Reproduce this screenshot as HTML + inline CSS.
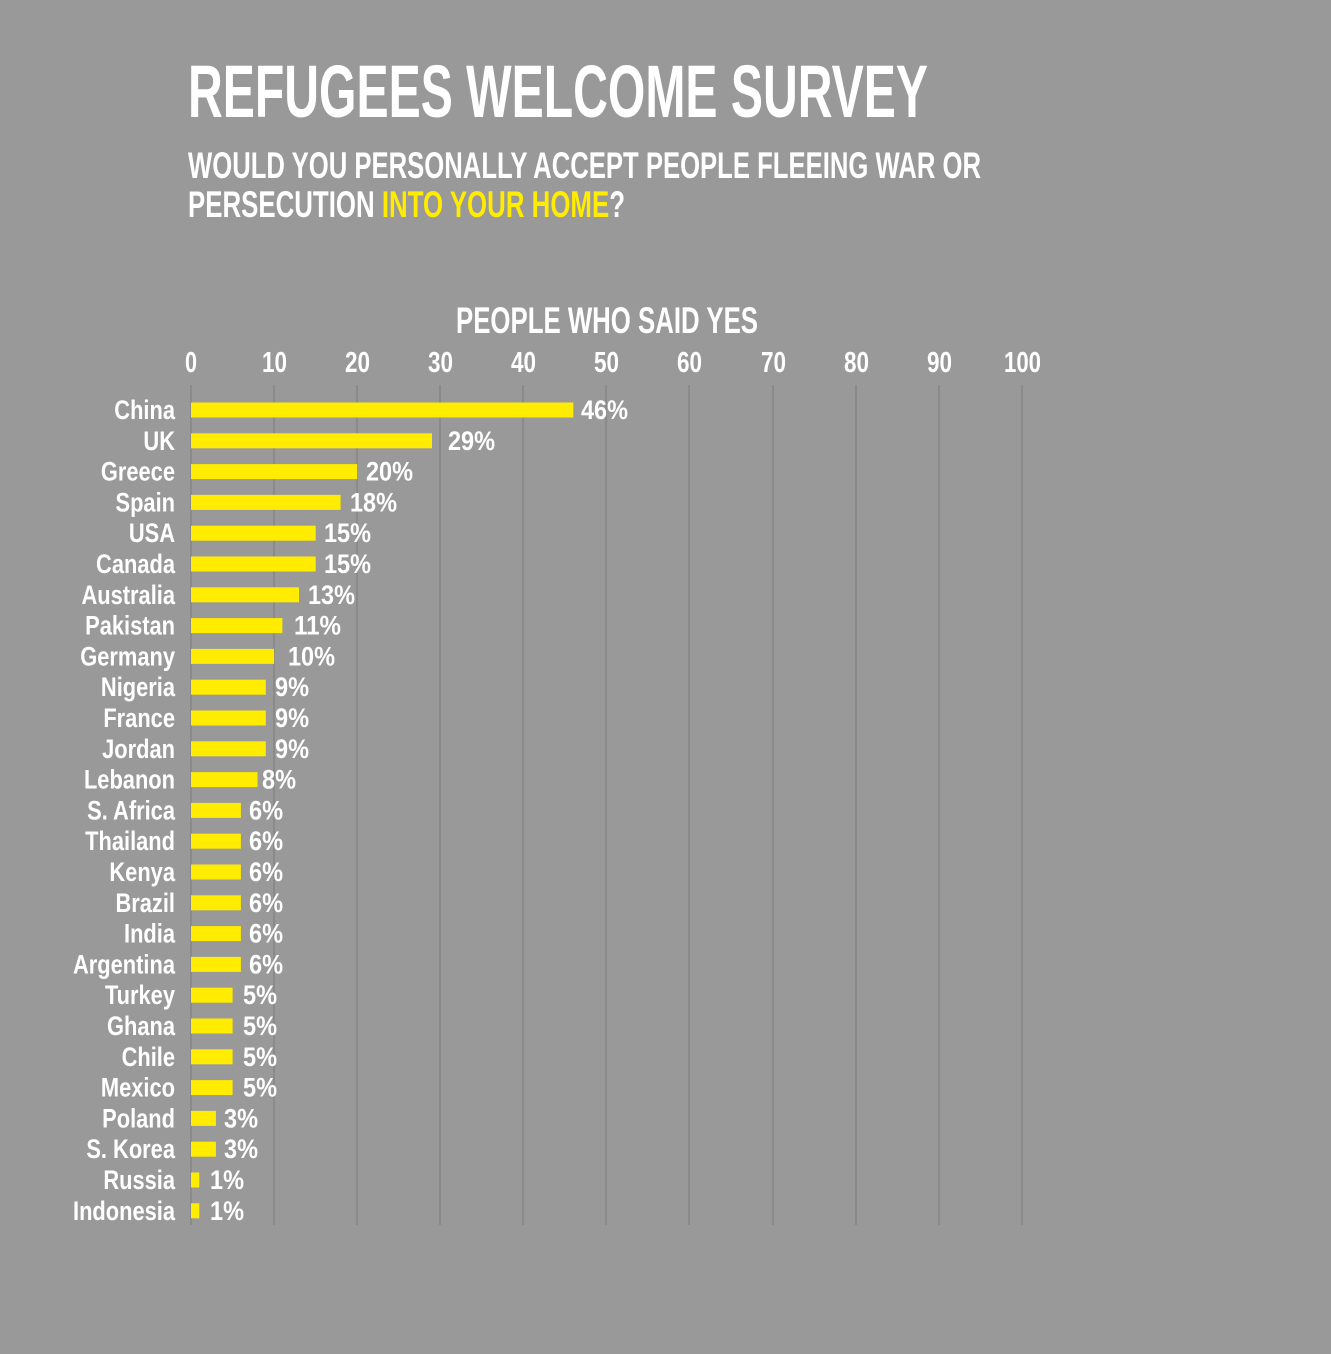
<!DOCTYPE html>
<html><head><meta charset="utf-8"><style>
html,body{margin:0;padding:0;background:#999999;}
svg{display:block}
text{font-family:"Liberation Sans Narrow","Liberation Sans",sans-serif;font-weight:bold;fill:#fff}
</style></head><body>
<svg width="1331" height="1354" viewBox="0 0 1331 1354" xmlns="http://www.w3.org/2000/svg">
<rect width="1331" height="1354" fill="#999999"/>
<text x="188" y="117" font-size="74" textLength="740" lengthAdjust="spacingAndGlyphs">REFUGEES WELCOME SURVEY</text>
<text x="188" y="178" font-size="37" textLength="793" lengthAdjust="spacingAndGlyphs">WOULD YOU PERSONALLY ACCEPT PEOPLE FLEEING WAR OR</text>
<text x="188" y="217" font-size="37" textLength="437" lengthAdjust="spacingAndGlyphs">PERSECUTION <tspan fill="#ffec00">INTO YOUR HOME</tspan>?</text>
<text x="456" y="333" font-size="37" textLength="302" lengthAdjust="spacingAndGlyphs">PEOPLE WHO SAID YES</text>
<g stroke="#8a8a8a" stroke-width="2">
<line x1="191" y1="385" x2="191" y2="1225"/><line x1="274" y1="385" x2="274" y2="1225"/><line x1="357" y1="385" x2="357" y2="1225"/><line x1="440" y1="385" x2="440" y2="1225"/><line x1="523" y1="385" x2="523" y2="1225"/><line x1="606" y1="385" x2="606" y2="1225"/><line x1="689" y1="385" x2="689" y2="1225"/><line x1="773" y1="385" x2="773" y2="1225"/><line x1="856" y1="385" x2="856" y2="1225"/><line x1="939" y1="385" x2="939" y2="1225"/><line x1="1022" y1="385" x2="1022" y2="1225"/>
</g>
<g font-size="29">
<text x="185" y="372" textLength="12" lengthAdjust="spacingAndGlyphs">0</text>
<text x="262" y="372" textLength="25" lengthAdjust="spacingAndGlyphs">10</text>
<text x="345" y="372" textLength="25" lengthAdjust="spacingAndGlyphs">20</text>
<text x="428" y="372" textLength="25" lengthAdjust="spacingAndGlyphs">30</text>
<text x="511" y="372" textLength="25" lengthAdjust="spacingAndGlyphs">40</text>
<text x="594" y="372" textLength="25" lengthAdjust="spacingAndGlyphs">50</text>
<text x="677" y="372" textLength="25" lengthAdjust="spacingAndGlyphs">60</text>
<text x="761" y="372" textLength="25" lengthAdjust="spacingAndGlyphs">70</text>
<text x="844" y="372" textLength="25" lengthAdjust="spacingAndGlyphs">80</text>
<text x="927" y="372" textLength="25" lengthAdjust="spacingAndGlyphs">90</text>
<text x="1004" y="372" textLength="37" lengthAdjust="spacingAndGlyphs">100</text>
</g>
<g fill="#ffec00">
<rect x="191" y="402.5" width="382.3" height="15"/>
<rect x="191" y="433.3" width="241" height="15"/>
<rect x="191" y="464.1" width="166.2" height="15"/>
<rect x="191" y="494.9" width="149.6" height="15"/>
<rect x="191" y="525.7" width="124.7" height="15"/>
<rect x="191" y="556.5" width="124.7" height="15"/>
<rect x="191" y="587.3" width="108" height="15"/>
<rect x="191" y="618.1" width="91.4" height="15"/>
<rect x="191" y="648.9" width="83.1" height="15"/>
<rect x="191" y="679.7" width="74.8" height="15"/>
<rect x="191" y="710.5" width="74.8" height="15"/>
<rect x="191" y="741.3" width="74.8" height="15"/>
<rect x="191" y="772.1" width="66.5" height="15"/>
<rect x="191" y="802.9" width="49.9" height="15"/>
<rect x="191" y="833.7" width="49.9" height="15"/>
<rect x="191" y="864.5" width="49.9" height="15"/>
<rect x="191" y="895.3" width="49.9" height="15"/>
<rect x="191" y="926.1" width="49.9" height="15"/>
<rect x="191" y="956.9" width="49.9" height="15"/>
<rect x="191" y="987.7" width="41.6" height="15"/>
<rect x="191" y="1018.5" width="41.6" height="15"/>
<rect x="191" y="1049.3" width="41.6" height="15"/>
<rect x="191" y="1080.1" width="41.6" height="15"/>
<rect x="191" y="1110.9" width="24.9" height="15"/>
<rect x="191" y="1141.7" width="24.9" height="15"/>
<rect x="191" y="1172.5" width="8.3" height="15"/>
<rect x="191" y="1203.3" width="8.3" height="15"/>
</g>
<g font-size="27" text-anchor="end" transform="translate(175 0) scale(0.81 1) translate(-175 0)">
<text x="175" y="419">China</text>
<text x="175" y="449.8">UK</text>
<text x="175" y="480.6">Greece</text>
<text x="175" y="511.4">Spain</text>
<text x="175" y="542.2">USA</text>
<text x="175" y="573">Canada</text>
<text x="175" y="603.8">Australia</text>
<text x="175" y="634.6">Pakistan</text>
<text x="175" y="665.4">Germany</text>
<text x="175" y="696.2">Nigeria</text>
<text x="175" y="727">France</text>
<text x="175" y="757.8">Jordan</text>
<text x="175" y="788.6">Lebanon</text>
<text x="175" y="819.4">S. Africa</text>
<text x="175" y="850.2">Thailand</text>
<text x="175" y="881">Kenya</text>
<text x="175" y="911.8">Brazil</text>
<text x="175" y="942.6">India</text>
<text x="175" y="973.4">Argentina</text>
<text x="175" y="1004.2">Turkey</text>
<text x="175" y="1035">Ghana</text>
<text x="175" y="1065.8">Chile</text>
<text x="175" y="1096.6">Mexico</text>
<text x="175" y="1127.4">Poland</text>
<text x="175" y="1158.2">S. Korea</text>
<text x="175" y="1189">Russia</text>
<text x="175" y="1219.8">Indonesia</text>
</g>
<g font-size="27" font-weight="normal" style="font-weight:600">
<text x="581" y="419" textLength="47" lengthAdjust="spacingAndGlyphs">46%</text>
<text x="448" y="449.8" textLength="47" lengthAdjust="spacingAndGlyphs">29%</text>
<text x="366" y="480.6" textLength="47" lengthAdjust="spacingAndGlyphs">20%</text>
<text x="350" y="511.4" textLength="47" lengthAdjust="spacingAndGlyphs">18%</text>
<text x="324" y="542.2" textLength="47" lengthAdjust="spacingAndGlyphs">15%</text>
<text x="324" y="573" textLength="47" lengthAdjust="spacingAndGlyphs">15%</text>
<text x="308" y="603.8" textLength="47" lengthAdjust="spacingAndGlyphs">13%</text>
<text x="294" y="634.6" textLength="47" lengthAdjust="spacingAndGlyphs">11%</text>
<text x="288" y="665.4" textLength="47" lengthAdjust="spacingAndGlyphs">10%</text>
<text x="275" y="696.2" textLength="34" lengthAdjust="spacingAndGlyphs">9%</text>
<text x="275" y="727" textLength="34" lengthAdjust="spacingAndGlyphs">9%</text>
<text x="275" y="757.8" textLength="34" lengthAdjust="spacingAndGlyphs">9%</text>
<text x="262" y="788.6" textLength="34" lengthAdjust="spacingAndGlyphs">8%</text>
<text x="249" y="819.4" textLength="34" lengthAdjust="spacingAndGlyphs">6%</text>
<text x="249" y="850.2" textLength="34" lengthAdjust="spacingAndGlyphs">6%</text>
<text x="249" y="881" textLength="34" lengthAdjust="spacingAndGlyphs">6%</text>
<text x="249" y="911.8" textLength="34" lengthAdjust="spacingAndGlyphs">6%</text>
<text x="249" y="942.6" textLength="34" lengthAdjust="spacingAndGlyphs">6%</text>
<text x="249" y="973.4" textLength="34" lengthAdjust="spacingAndGlyphs">6%</text>
<text x="243" y="1004.2" textLength="34" lengthAdjust="spacingAndGlyphs">5%</text>
<text x="243" y="1035" textLength="34" lengthAdjust="spacingAndGlyphs">5%</text>
<text x="243" y="1065.8" textLength="34" lengthAdjust="spacingAndGlyphs">5%</text>
<text x="243" y="1096.6" textLength="34" lengthAdjust="spacingAndGlyphs">5%</text>
<text x="224" y="1127.4" textLength="34" lengthAdjust="spacingAndGlyphs">3%</text>
<text x="224" y="1158.2" textLength="34" lengthAdjust="spacingAndGlyphs">3%</text>
<text x="210" y="1189" textLength="34" lengthAdjust="spacingAndGlyphs">1%</text>
<text x="210" y="1219.8" textLength="34" lengthAdjust="spacingAndGlyphs">1%</text>
</g>
</svg>
</body></html>
